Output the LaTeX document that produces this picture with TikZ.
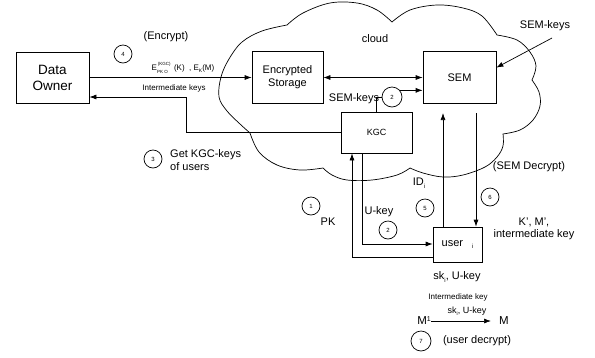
\documentclass[tikz,border=0pt]{standalone}
\usepackage{fontspec}
\setmainfont{Liberation Sans}
\usetikzlibrary{arrows.meta}
\newcommand{\sub}[2]{\raisebox{-2.5pt}{\fontsize{#1}{#1}\selectfont #2}}
\begin{document}
\begin{tikzpicture}[x=1pt,y=-1pt,
  every node/.style={font=\fontsize{11}{13}\selectfont, inner sep=0pt},
  box/.style={draw, line width=0.7pt, rectangle},
  num/.style={draw, circle, line width=0.7pt, minimum size=18pt, font=\fontsize{6}{6}\selectfont},
  arr/.style={line width=0.7pt, -{Latex[length=7pt,width=5pt]}},
  ln/.style={line width=0.7pt},
  small/.style={font=\fontsize{8}{9}\selectfont}]
\useasboundingbox (0,0) rectangle (595,357);
% cloud
\draw[ln] plot[smooth, tension=0.6] coordinates {(250,133) (240,124) (227,111) (219,97) (221,77) (229,59) (242,42) (262,31) (287,25)}
  -- plot[smooth, tension=0.6] coordinates {(287,25) (303,13) (330,3) (357,3) (377,10) (392,22)}
  -- plot[smooth, tension=0.6] coordinates {(392,22) (410,10) (437,5) (463,8) (482,16) (497,35)}
  -- plot[smooth, tension=0.6] coordinates {(497,35) (517,40) (530,52) (536,66) (532,80)}
  -- plot[smooth, tension=0.6] coordinates {(532,80) (539,92) (540,106) (533,120) (520,130) (503,134)}
  -- plot[smooth, tension=0.6] coordinates {(503,134) (503,146) (497,157) (485,167) (463,175) (443,177) (423,173) (410,168)}
  -- plot[smooth, tension=0.6] coordinates {(410,168) (397,175) (372,180) (347,180) (332,175) (323,168)}
  -- plot[smooth, tension=0.6] coordinates {(323,168) (300,170) (277,165) (259,152) (250,133)};
% boxes
\node[box, minimum width=73pt, minimum height=51pt, align=center, font=\fontsize{13.5}{16}\selectfont] (owner) at (52.5,77.5) {Data\\Owner};
\node[box, minimum width=71pt, minimum height=52pt, align=center, fill=white] (es) at (287.5,77.5) {Encrypted\\Storage};
\node[box, minimum width=73pt, minimum height=52pt, fill=white] (sem) at (459.5,77.5) {SEM};
\node[box, minimum width=71pt, minimum height=41pt, fill=white, font=\fontsize{9}{10}\selectfont] (kgc) at (376.5,132.5) {KGC};
\node[box, minimum width=49pt, minimum height=35pt] (user) at (457.5,244.5) {user\hspace{9pt}\sub{6}{i}};
% numbered circles
\node[num] (c4) at (123,54) {4};
\node[num, minimum size=20pt, fill=white] (c2a) at (392,97) {2};
\node[num] (c3) at (153,159) {3};
\node[num] (c1) at (311,206) {1};
\node[num] (c2b) at (388,230) {2};
\node[num] (c5) at (425,208) {5};
\node[num] (c6) at (490,197) {6};
\node[num, minimum size=20pt] (c7) at (421,341) {7};
% texts
\node (tenc) at (166,37) {(Encrypt)};
\node[font=\fontsize{8}{9}\selectfont] (te) at (183,68) {E\rlap{\raisebox{4.5pt}{\fontsize{4.5}{5}\selectfont \,(KGC)}}\raisebox{-3pt}{\fontsize{4.5}{5}\selectfont PK O}\hspace{4pt} (K)\ \ , E\raisebox{-2pt}{\fontsize{5}{5}\selectfont K}(M)};
\node[small] (tik) at (174,88) {Intermediate keys};
\node (tcloud) at (375,39) {cloud};
\node (tsk1) at (545,26) {SEM-keys};
\node (tsk2) at (354,99) {SEM-keys};
\node[align=left, anchor=west] (tget) at (170,160) {Get KGC-keys\\of users};
\node (tpk) at (328,222) {PK};
\node (tuk) at (379,212) {U-key};
\node (tid) at (419,183) {ID\sub{6}{i}};
\node (tsd) at (529,167) {(SEM Decrypt)};
\node[align=center, font=\fontsize{11}{12}\selectfont] (tkm) at (534,229) {K', M',\\intermediate key};
\node (tsku) at (457,277) {sk\sub{6}{i}, U-key};
\node[small] (tik2) at (458,297) {Intermediate key};
\node[font=\fontsize{9}{10}\selectfont] (tsku2) at (467,311) {sk\sub{5}{i}, U-key};
\node[anchor=east, font=\fontsize{11.5}{12}\selectfont] (m1) at (431,321) {M\raisebox{3pt}{\fontsize{7}{7}\selectfont 1}};
\node[anchor=west, font=\fontsize{11.5}{12}\selectfont] (m2) at (499,321) {M};
\node (tud) at (477,341) {(user decrypt)};
% connectors
\coordinate (jt) at (186,97);
\coordinate (ul) at (352,257);
\coordinate (ur) at (362,244);
\coordinate (ua) at (443,113);
\coordinate (sa) at (476,113);
\coordinate (skt) at (552,38);
\draw[arr] (owner.east) -- (es.west);
\draw[ln, {Latex[length=7pt,width=5pt]}-{Latex[length=7pt,width=5pt]}] (es.east) -- (sem.west);
\draw[arr] (skt) -- (sem.15);
\draw[ln] (kgc.north) |- (c2a.west);
\draw[arr] (c2a.40) -- (c2a.40 -| sem.west);
\draw[arr] (kgc.west) -| (jt) -- (jt -| owner.east);
\draw[arr] (ul -| user.west) -- (ul) -- (ul |- kgc.south);
\draw[arr] (ur |- kgc.south) -- (ur) -- (ur -| user.west);
\draw[arr] (ua |- user.north) -- (ua);
\draw[arr] (sa) -- (sa |- user.north);
\draw[arr] (m1.east) -- ([xshift=-8pt]m2.west);
\end{tikzpicture}
\end{document}
